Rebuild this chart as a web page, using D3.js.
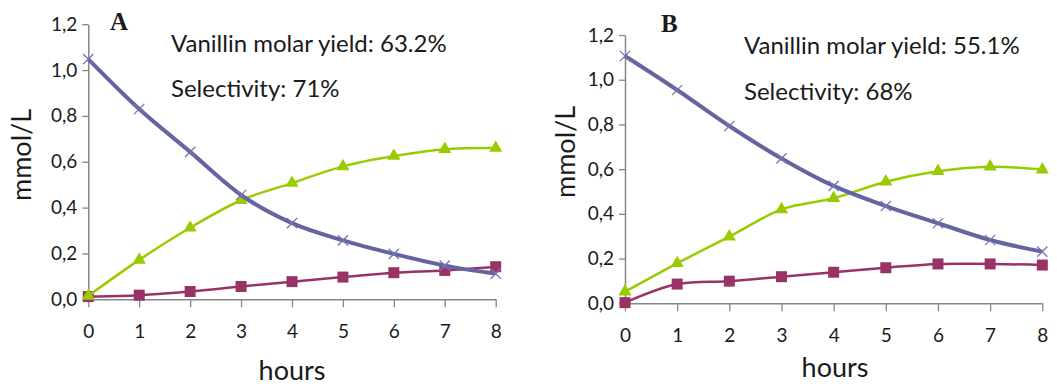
<!DOCTYPE html>
<html><head><meta charset="utf-8">
<script src="https://cdn.jsdelivr.net/npm/d3@7"></script>
<style>
body{margin:0;background:#fff;}
svg{display:block;}
text{font-family:Lato,"Open Sans",sans-serif;fill:#1a1a1a;}
</style></head>
<body><svg id="c" width="1057" height="387"></svg>
<script>
const hours = [0,1,2,3,4,5,6,7,8];
const yTicks = [0,0.2,0.4,0.6,0.8,1.0,1.2];
const yTickLabels = ["0,0","0,2","0,4","0,6","0,8","1,0","1,2"];

// Panel A
const A_substrate = [1.048,0.83,0.643,0.455,0.332,0.257,0.198,0.147,0.112];
const A_vanillin  = [0.015,0.172,0.312,0.432,0.507,0.580,0.625,0.655,0.660];
const A_byproduct = [0.012,0.018,0.034,0.056,0.077,0.097,0.116,0.126,0.142];
// Panel B
const B_substrate = [1.106,0.954,0.793,0.648,0.525,0.435,0.358,0.283,0.231];
const B_vanillin  = [0.052,0.179,0.298,0.420,0.470,0.544,0.591,0.611,0.598];
const B_byproduct = [0.003,0.086,0.099,0.119,0.139,0.159,0.176,0.176,0.171];

const panels = [
  {label:"A", yieldText:"Vanillin molar yield: 63.2%", selText:"Selectivity: 71%",
   sub:A_substrate, van:A_vanillin, byp:A_byproduct,
   x0:88.3, x1:495.7, y0:299.3, y1:24.2, labX:110, labY:30, textX:171, t1Y:52, t2Y:97,
   yLabX:22, yLabY:155, hoursX:292, hoursY:380},
  {label:"B", yieldText:"Vanillin molar yield: 55.1%", selText:"Selectivity: 68%",
   sub:B_substrate, van:B_vanillin, byp:B_byproduct,
   x0:625, x1:1042.3, y0:303.3, y1:35, labX:661, labY:32, textX:744, t1Y:54, t2Y:100,
   yLabX:566, yLabY:152, hoursX:835, hoursY:377}
];

const svg = d3.select("#c");
const axisColor = "#868686";

panels.forEach(p => {
  const g = svg.append("g");
  const x = d3.scaleLinear().domain([0,8]).range([p.x0,p.x1]);
  const y = d3.scaleLinear().domain([0,1.2]).range([p.y0,p.y1]);

  // Y axis
  const ya = g.append("g").attr("transform",`translate(${p.x0},0)`)
    .call(d3.axisLeft(y).tickValues(yTicks).tickFormat((d,i)=>yTickLabels[i]).tickSize(6).tickPadding(5).tickSizeOuter(0));
  ya.select(".domain").attr("stroke",axisColor).attr("stroke-width",1.5);
  ya.selectAll(".tick line").attr("stroke",axisColor).attr("stroke-width",1.3);
  ya.selectAll(".tick text").style("font-size","19px").attr("fill","#1a1a1a").style("font-family","Lato");

  // X axis
  const xa = g.append("g").attr("transform",`translate(0,${p.y0})`)
    .call(d3.axisBottom(x).tickValues(hours).tickFormat(d3.format("d")).tickSize(8).tickPadding(17).tickSizeOuter(0));
  xa.select(".domain").attr("stroke",axisColor).attr("stroke-width",1.5);
  xa.selectAll(".tick line").attr("stroke",axisColor).attr("stroke-width",1.3);
  xa.selectAll(".tick text").style("font-size","19px").attr("fill","#1a1a1a").style("font-family","Lato");

  // axis titles
  g.append("text").attr("x",p.hoursX).attr("y",p.hoursY).attr("text-anchor","middle")
    .style("font-size","27px").text("hours");
  g.append("text").attr("transform",`translate(${p.yLabX+9},${p.yLabY}) rotate(-90)`)
    .attr("text-anchor","middle").style("font-size","27px").text("mmol/L");

  // panel letter
  g.append("text").attr("x",p.labX).attr("y",p.labY)
    .style("font-family","'Liberation Serif',serif").style("font-weight","bold").style("font-size","25px").text(p.label);
  // annotations
  g.append("text").attr("x",p.textX).attr("y",p.t1Y).style("font-size","24px").text(p.yieldText);
  g.append("text").attr("x",p.textX).attr("y",p.t2Y).style("font-size","24px").text(p.selText);

  const line = d3.line().x((d,i)=>x(hours[i])).y(d=>y(d)).curve(d3.curveCatmullRom.alpha(0));

  // byproduct (squares)
  g.append("path").attr("d",line(p.byp)).attr("fill","none").attr("stroke","#993366").attr("stroke-width",2.5);
  g.selectAll(null).data(p.byp).join("rect")
    .attr("x",(d,i)=>x(hours[i])-5.5).attr("y",d=>y(d)-5.5).attr("width",11).attr("height",11)
    .attr("fill","#993366");

  // vanillin (triangles)
  g.append("path").attr("d",line(p.van)).attr("fill","none").attr("stroke","#99cc00").attr("stroke-width",2.5);
  const tri = d3.symbol().type(d3.symbolTriangle).size(75);
  g.selectAll(null).data(p.van).join("path")
    .attr("d",tri).attr("transform",(d,i)=>`translate(${x(hours[i])},${y(d)})`)
    .attr("fill","#99cc00");

  // substrate (x markers)
  g.append("path").attr("d",line(p.sub)).attr("fill","none").attr("stroke","#6464a0").attr("stroke-width",4);
  const cross = d3.symbol().type(d3.symbolX).size(70);
  g.selectAll(null).data(p.sub).join("path")
    .attr("d",cross).attr("transform",(d,i)=>`translate(${x(hours[i])},${y(d)})`)
    .attr("fill","none").attr("stroke","#7474b0").attr("stroke-width",1.3);
});
</script></body></html>
